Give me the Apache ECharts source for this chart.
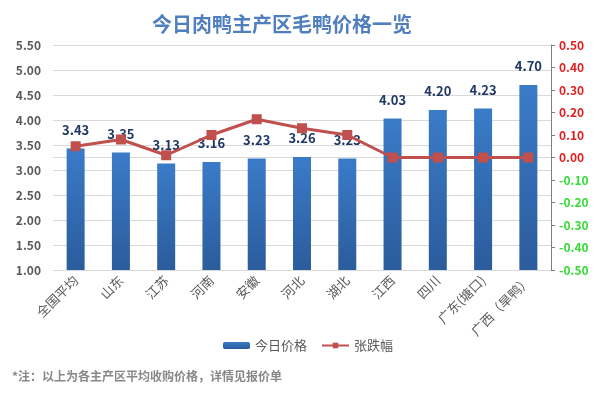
<!DOCTYPE html>
<html>
<head>
<meta charset="utf-8">
<script src="https://cdn.jsdelivr.net/npm/echarts@6/dist/echarts.min.js"></script>
<style>
  html, body { margin: 0; padding: 0; background: #fff; }
  #chartBox { width: 598px; height: 397px; }
</style>
</head>
<body>
<div id="chartBox"></div>
<script>
// 数据
var categories = ["全国平均", "山东", "江苏", "河南", "安徽", "河北", "湖北", "江西", "四川", "广东(塘口)", "广西（旱鸭）"];
var priceToday = [3.43, 3.35, 3.13, 3.16, 3.23, 3.26, 3.23, 4.03, 4.20, 4.23, 4.70];
var priceChange = [0.05, 0.08, 0.01, 0.10, 0.17, 0.13, 0.10, 0.00, 0.00, 0.00, 0.00];

var chart = echarts.init(document.getElementById("chartBox"));
var font = "'Noto Sans CJK SC', 'Noto Sans', sans-serif";

var option = {
  animation: false,
  textStyle: { fontFamily: font },
  title: {
    text: "今日肉鸭主产区毛鸭价格一览",
    left: 277,
    top: 9,
    textAlign: "center",
    textStyle: { color: "#4F7FBF", fontSize: 20, fontWeight: "bold", fontFamily: font }
  },
  legend: {
    data: ["今日价格", "张跌幅"],
    left: 218,
    top: 334,
    itemWidth: 27,
    itemHeight: 7,
    itemGap: 14,
    textStyle: { color: "#595959", fontSize: 13, fontFamily: font }
  },
  graphic: [{
    type: "text",
    left: 12,
    top: 370,
    style: { text: "*注：以上为各主产区平均收购价格，详情见报价单", fill: "#888888", font: "bold 12px " + font }
  }],
  grid: { left: 53, right: 47, top: 45, bottom: 127, containLabel: false },
  xAxis: {
    type: "category",
    data: categories,
    axisLine: { lineStyle: { color: "#d9d9d9" } },
    axisTick: { show: false },
    axisLabel: { rotate: 45, color: "#595959", fontSize: 13, margin: 8, interval: 0, fontFamily: font }
  },
  yAxis: [{
    type: "value",
    min: 1, max: 5.5, interval: 0.5,
    axisLine: { show: false },
    axisTick: { show: false },
    splitLine: { lineStyle: { color: "#d9d9d9" } },
    axisLabel: {
      color: "#595959", fontSize: 12, fontWeight: "bold", margin: 12, fontFamily: font,
      formatter: function (v) { return v.toFixed(2); }
    }
  }, {
    type: "value",
    min: -0.5, max: 0.5, interval: 0.1,
    position: "right",
    axisLine: { show: true, lineStyle: { color: "#7f7f7f" } },
    axisTick: { show: true, length: 4, lineStyle: { color: "#7f7f7f" } },
    splitLine: { show: false },
    axisLabel: {
      fontSize: 12, fontWeight: "bold", margin: 8, fontFamily: font,
      color: function (v) { return Number(v) < -0.001 ? "#33dd33" : "#e02020"; },
      formatter: function (v) { return v.toFixed(2); }
    }
  }],
  series: [{
    name: "今日价格",
    type: "bar",
    yAxisIndex: 0,
    data: priceToday,
    barWidth: 18,
    itemStyle: {
      color: new echarts.graphic.LinearGradient(0, 0, 0, 1, [
        { offset: 0, color: "#3A7BC8" },
        { offset: 1, color: "#2B5C9C" }
      ])
    },
    label: {
      show: true,
      position: "top",
      distance: 12,
      color: "#1F3864",
      fontSize: 13,
      fontWeight: "bold",
      fontFamily: font,
      formatter: function (p) { return p.value.toFixed(2); }
    },
    z: 2
  }, {
    name: "张跌幅",
    type: "line",
    yAxisIndex: 1,
    data: priceChange,
    symbol: "rect",
    symbolSize: 10,
    lineStyle: { color: "#C0504D", width: 3 },
    itemStyle: { color: "#C0504D" },
    z: 3
  }]
};

chart.setOption(option);
</script>
</body>
</html>
